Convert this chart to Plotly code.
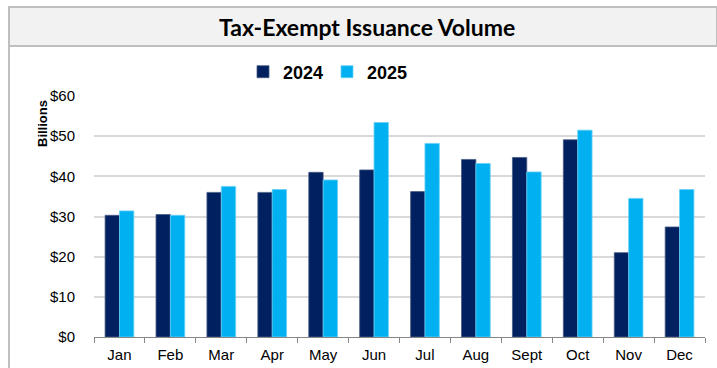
import plotly.graph_objects as go

months = ["Jan", "Feb", "Mar", "Apr", "May", "Jun", "Jul", "Aug", "Sept", "Oct", "Nov", "Dec"]
vol_2024 = [30.3, 30.5, 36.0, 36.0, 41.0, 41.6, 36.2, 44.2, 44.7, 49.1, 21.0, 27.4]
vol_2025 = [31.4, 30.3, 37.5, 36.7, 39.1, 53.4, 48.2, 43.2, 41.1, 51.5, 34.5, 36.7]
y_ticks = [0, 10, 20, 30, 40, 50, 60]
y_labels = ["$0", "$10", "$20", "$30", "$40", "$50", "$60"]

W, H = 717, 368
L, R, T, B = 94, 12, 96, 31
pw, ph = W - L - R, H - T - B


def px_x(x):
    return (x - L) / pw


def px_y(y):
    return (H - B - y) / ph


fig = go.Figure()
fig.add_trace(go.Bar(x=months, y=vol_2024, name="<b>2024</b>",
                     marker=dict(color="#002060", line=dict(color="#4A5C85", width=0.8))))
fig.add_trace(go.Bar(x=months, y=vol_2025, name="<b>2025</b>",
                     marker=dict(color="#00B0F0", line=dict(color="#66D0F6", width=0.8))))

border = "#BFBFBF"
shapes = [
    dict(type="rect", xref="paper", yref="paper",
         x0=px_x(9), x1=px_x(717), y0=px_y(46), y1=px_y(7),
         fillcolor="#F2F2F2", line=dict(color=border, width=2), layer="below"),
    dict(type="line", xref="paper", yref="paper",
         x0=px_x(9), x1=px_x(9), y0=px_y(46), y1=px_y(370),
         line=dict(color=border, width=2)),
]

annotations = [
    dict(text="<b>Tax-Exempt Issuance Volume</b>", xref="paper", yref="paper",
         x=px_x(367), y=px_y(27), xanchor="center", yanchor="middle", showarrow=False,
         font=dict(family="Lato, Open Sans, sans-serif", size=23, color="#000000")),
    dict(text="<b>Billions</b>", xref="paper", yref="paper",
         x=px_x(42), y=px_y(124), xanchor="center", yanchor="middle", showarrow=False,
         textangle=-90, font=dict(family="Liberation Sans, Arial, sans-serif", size=13, color="#000000")),
]

fig.update_layout(
    width=W, height=H,
    margin=dict(l=L, r=R, t=T, b=B, pad=0, autoexpand=False),
    paper_bgcolor="white", plot_bgcolor="white",
    barmode="group", bargap=0.436, bargroupgap=0,
    font=dict(family="Liberation Sans, Arial, sans-serif", size=15, color="#000000"),
    showlegend=True,
    legend=dict(orientation="h", x=px_x(243), y=px_y(72), xanchor="left", yanchor="middle",
                font=dict(family="Liberation Sans, Arial, sans-serif", size=18, color="#000000"),
                entrywidth=39, bgcolor="rgba(0,0,0,0)", traceorder="normal"),
    shapes=shapes,
    annotations=annotations,
)

fig.update_xaxes(showline=True, linecolor="#868686", linewidth=1,
                 ticks="outside", tickson="boundaries", ticklen=5, tickcolor="#868686",
                 showgrid=False, tickfont=dict(size=15), ticklabelstandoff=4, automargin=False)
fig.update_yaxes(range=[0, 60], tickvals=y_ticks, ticktext=y_labels,
                 showgrid=True, gridcolor="#D9D9D9", gridwidth=1.5,
                 zeroline=False, showline=False, ticks="",
                 tickfont=dict(size=15), ticklabelstandoff=18, automargin=False)

fig.write_html("out.html")
